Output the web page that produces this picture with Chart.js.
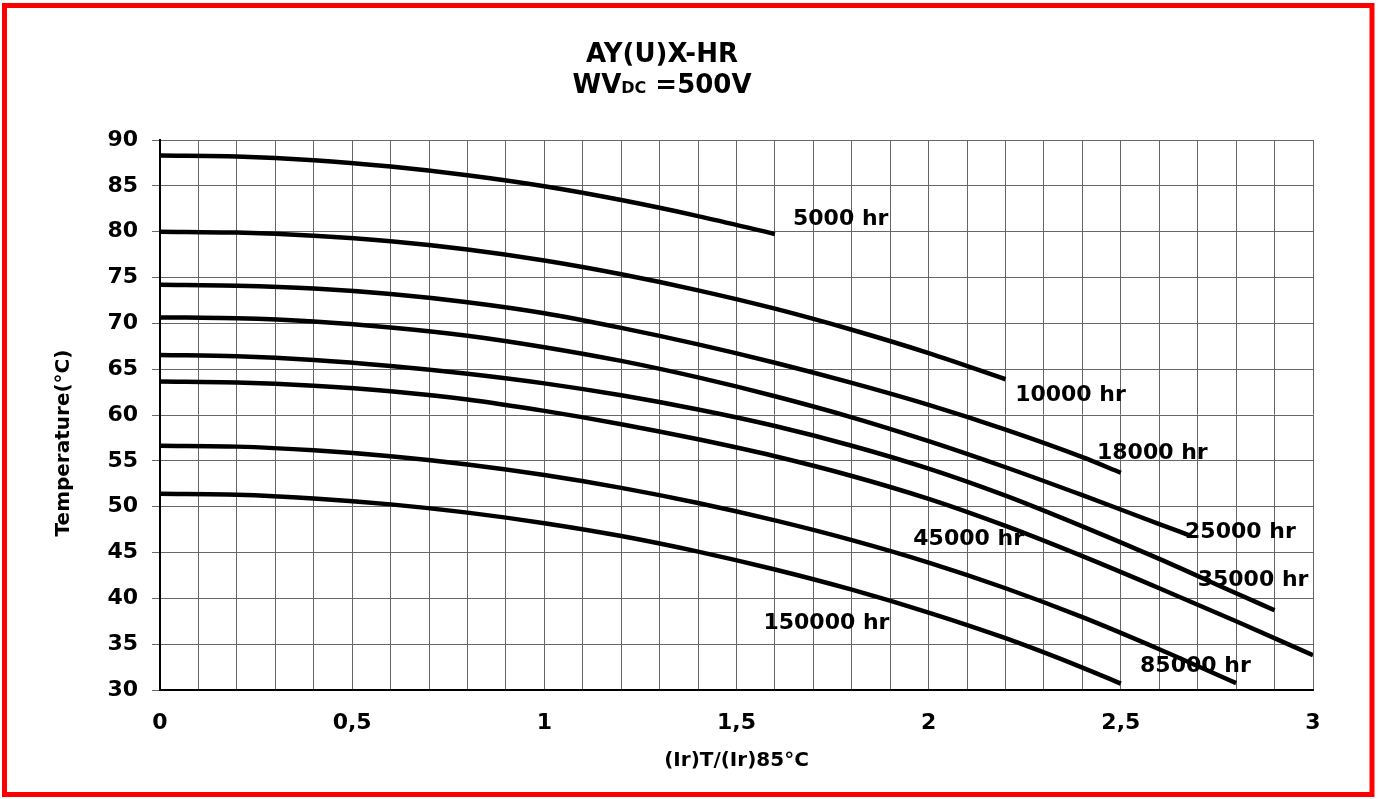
<!DOCTYPE html>
<html>
<head>
<meta charset="utf-8">
<script src="https://cdn.jsdelivr.net/npm/chart.js@4/dist/chart.umd.min.js"></script>
<style>
  html, body { margin: 0; padding: 0; background: #fff; }
  #wrap { width: 1381px; height: 799px; }
</style>
</head>
<body>
<div id="wrap"><canvas id="lifeChart" width="1381" height="799"></canvas></div>
<script>
// (Ir)T/(Ir)85°C vs temperature, one curve per lifetime
const lifeLabels = ["5000 hr", "10000 hr", "18000 hr", "25000 hr", "35000 hr", "45000 hr", "85000 hr", "150000 hr"];

const x5000 = [0, 0.2, 0.4, 0.6, 0.8, 1.0, 1.2, 1.4, 1.6];
const t5000 = [88.3, 88.2, 87.8, 87.1, 86.15, 84.95, 83.45, 81.7, 79.75];

const x10000 = [0, 0.2, 0.4, 0.6, 0.8, 1.0, 1.2, 1.4, 1.6, 1.8, 2.0, 2.2];
const t10000 = [80.0, 79.9, 79.55, 78.95, 78.05, 76.85, 75.35, 73.6, 71.6, 69.3, 66.75, 63.9];

const x18000 = [0, 0.2, 0.4, 0.6, 0.8, 1.0, 1.2, 1.4, 1.6, 1.8, 2.0, 2.2, 2.4, 2.5];
const t18000 = [74.2, 74.1, 73.8, 73.2, 72.3, 71.1, 69.5, 67.7, 65.7, 63.5, 61.1, 58.4, 55.4, 53.7];

const x25000 = [0, 0.2, 0.4, 0.6, 0.8, 1.0, 1.2, 1.4, 1.6, 1.8, 2.0, 2.2, 2.4, 2.6, 2.68];
const t25000 = [70.65, 70.55, 70.2, 69.55, 68.65, 67.4, 65.9, 64.1, 62.05, 59.75, 57.15, 54.3, 51.25, 48.1, 46.85];

const x35000 = [0, 0.2, 0.4, 0.6, 0.8, 1.0, 1.2, 1.4, 1.6, 1.8, 2.0, 2.2, 2.4, 2.6, 2.8, 2.9];
const t35000 = [66.55, 66.4, 66.0, 65.35, 64.5, 63.45, 62.15, 60.6, 58.8, 56.65, 54.15, 51.2, 47.85, 44.3, 40.55, 38.7];

const x45000 = [0, 0.2, 0.4, 0.6, 0.8, 1.0, 1.2, 1.4, 1.6, 1.8, 2.0, 2.2, 2.4, 2.6, 2.8, 3.0];
const t45000 = [63.65, 63.55, 63.2, 62.6, 61.7, 60.45, 59.0, 57.35, 55.5, 53.35, 50.85, 47.9, 44.6, 41.1, 37.5, 33.8];

const x85000 = [0, 0.2, 0.4, 0.6, 0.8, 1.0, 1.2, 1.4, 1.6, 1.8, 2.0, 2.2, 2.4, 2.6, 2.8];
const t85000 = [56.65, 56.55, 56.15, 55.5, 54.6, 53.45, 52.05, 50.4, 48.5, 46.35, 43.9, 41.1, 37.95, 34.45, 30.75];

const x150000 = [0, 0.2, 0.4, 0.6, 0.8, 1.0, 1.2, 1.4, 1.6, 1.8, 2.0, 2.2, 2.4, 2.5];
const t150000 = [51.4, 51.3, 50.9, 50.25, 49.35, 48.2, 46.8, 45.1, 43.15, 40.95, 38.45, 35.65, 32.45, 30.7];

// where the "xxx hr" text sits, in data units (left edge, middle)
const labelX = [1.647, 2.225, 2.438, 2.667, 2.70, 1.96, 2.55, 1.57];
const labelT = [81.3, 62.1, 55.85, 47.2, 42.0, 46.4, 32.6, 37.3];

const xTicks = [0, 0.5, 1, 1.5, 2, 2.5, 3];
const tempTicks = [30, 35, 40, 45, 50, 55, 60, 65, 70, 75, 80, 85, 90];

const seriesX = [x5000, x10000, x18000, x25000, x35000, x45000, x85000, x150000];
const seriesT = [t5000, t10000, t18000, t25000, t35000, t45000, t85000, t150000];

const FONT = "DejaVu Sans";
Chart.defaults.font.family = FONT;
Chart.defaults.color = "#000";

const toPoints = (xs, ts) => xs.map((x, i) => ({ x: x, y: ts[i] }));

// title, y title, curve labels and the red frame
const decorPlugin = {
  id: "decor",
  afterDraw(chart) {
    const ctx = chart.ctx;
    const xs = chart.scales.x;
    const ys = chart.scales.y;
    ctx.save();

    ctx.fillStyle = "#000";
    ctx.textBaseline = "alphabetic";
    ctx.textAlign = "center";
    ctx.font = "bold 26px '" + FONT + "'";
    ctx.fillText("AY(U)X-HR", 662, 62);

    // WV with subscript DC
    const big = "bold 26px '" + FONT + "'";
    const small = "bold 16px '" + FONT + "'";
    ctx.font = big;
    const w1 = ctx.measureText("WV").width;
    const w3 = ctx.measureText(" =500V").width;
    ctx.font = small;
    const w2 = ctx.measureText("DC").width;
    let sx = 662 - (w1 + w2 + w3) / 2;
    ctx.textAlign = "left";
    ctx.font = big;
    ctx.fillText("WV", sx, 93);
    ctx.font = small;
    ctx.fillText("DC", sx + w1, 93);
    ctx.font = big;
    ctx.fillText(" =500V", sx + w1 + w2, 93);

    // y axis title
    ctx.save();
    ctx.translate(64, 443);
    ctx.rotate(-Math.PI / 2);
    ctx.textAlign = "center";
    ctx.textBaseline = "middle";
    ctx.font = "bold 20px '" + FONT + "'";
    ctx.fillText("Temperature(°C)", 0, 0);
    ctx.restore();

    // curve labels
    ctx.font = "bold 22px '" + FONT + "'";
    ctx.textAlign = "left";
    ctx.textBaseline = "middle";
    lifeLabels.forEach((txt, i) => {
      ctx.fillText(txt, xs.getPixelForValue(labelX[i]), ys.getPixelForValue(labelT[i]));
    });

    ctx.strokeStyle = "#ff0000";
    ctx.lineWidth = 5;
    ctx.strokeRect(4.5, 5.5, 1367.5, 789);
    ctx.restore();
  },
};

const ctx = document.getElementById("lifeChart").getContext("2d");

new Chart(ctx, {
  type: "line",
  data: {
    datasets: lifeLabels.map((name, i) => ({
      label: name,
      data: toPoints(seriesX[i], seriesT[i]),
      borderColor: "#000",
      borderWidth: 4.5,
      pointRadius: 0,
      fill: false,
      cubicInterpolationMode: "monotone",
    })),
  },
  options: {
    responsive: false,
    animation: false,
    devicePixelRatio: 1,
    layout: { padding: { left: 0, top: 140, right: 68, bottom: 0 } },
    plugins: {
      legend: { display: false },
      tooltip: { enabled: false },
    },
    scales: {
      x: {
        type: "linear",
        min: 0,
        max: 3,
        afterFit: (scale) => { scale.height = 109; },
        ticks: {
          stepSize: 0.1,
          autoSkip: false,
          maxRotation: 0,
          padding: 20,
          font: { size: 22, weight: "bold" },
          callback: (v) => {
            const hit = xTicks.find((t) => Math.abs(t - v) < 1e-6);
            return hit === undefined ? "" : String(hit).replace(".", ",");
          },
        },
        grid: { color: "#666", lineWidth: 1, drawTicks: false },
        border: { display: true, color: "#000", width: 2 },
        title: {
          display: true,
          text: "(Ir)T/(Ir)85°C",
          font: { size: 20, weight: "bold" },
          padding: { top: 0, bottom: 26 },
        },
      },
      y: {
        type: "linear",
        min: tempTicks[0],
        max: tempTicks[tempTicks.length - 1],
        afterFit: (scale) => { scale.width = 160; },
        afterBuildTicks: (scale) => { scale.ticks = tempTicks.map((v) => ({ value: v })); },
        ticks: {
          padding: 14,
          font: { size: 22, weight: "bold" },
        },
        grid: { color: "#666", lineWidth: 1, tickLength: 8 },
        border: { display: true, color: "#000", width: 2 },
      },
    },
  },
  plugins: [decorPlugin],
});
</script>
</body>
</html>
